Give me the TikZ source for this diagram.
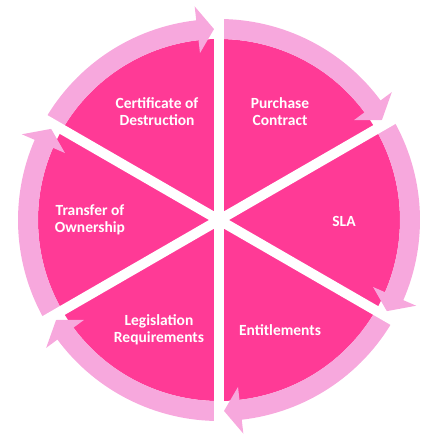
\documentclass[tikz,border=0pt]{standalone}
\usepackage{fontspec}
\setmainfont{Carlito}
\usetikzlibrary{positioning}
\definecolor{wedgePink}{RGB}{255,58,150}
\definecolor{ringPink}{RGB}{247,168,221}
\newdimen\wedgeR
\newdimen\bandR
\wedgeR=181pt
\bandR=201pt

\begin{document}
\begin{tikzpicture}[
    x=1pt, y=1pt,
    wedge/.style={%
      fill=wedgePink,
      draw=none,
    },
    ring/.style={%
      fill=ringPink,
      draw=none,
    },
    gap/.style={%
      draw=white,
      line width=10pt,
    },
    label/.style={%
      text=white,
      align=center,
      font=\bfseries\fontsize{15.5}{17}\selectfont,
    },
  ]
    \useasboundingbox (-219,-220) rectangle (223,220);

    % wedges
    \fill [wedge] (0,0) -- (90:\wedgeR) arc [start angle=90, end angle=30, radius=\wedgeR] -- cycle;
    \fill [wedge] (0,0) -- (30:\wedgeR) arc [start angle=30, end angle=-30, radius=\wedgeR] -- cycle;
    \fill [wedge] (0,0) -- (-30:\wedgeR) arc [start angle=-30, end angle=-90, radius=\wedgeR] -- cycle;
    \fill [wedge] (0,0) -- (270:\wedgeR) arc [start angle=270, end angle=210, radius=\wedgeR] -- cycle;
    \fill [wedge] (0,0) -- (210:\wedgeR) arc [start angle=210, end angle=150, radius=\wedgeR] -- cycle;
    \fill [wedge] (0,0) -- (150:\wedgeR) arc [start angle=150, end angle=90, radius=\wedgeR] -- cycle;

    % ring arrows, clockwise
    \fill [ring] (90:\wedgeR) arc [start angle=90, end angle=36.5, radius=\wedgeR] -- (36.5:168) -- (31.5:191) -- (36.5:215) -- (36.5:\bandR) arc [start angle=36.5, end angle=90, radius=\bandR] -- cycle;
    \fill [ring] (30:\wedgeR) arc [start angle=30, end angle=-23.5, radius=\wedgeR] -- (-23.5:168) -- (-28.5:191) -- (-23.5:215) -- (-23.5:\bandR) arc [start angle=-23.5, end angle=30, radius=\bandR] -- cycle;
    \fill [ring] (-30:\wedgeR) arc [start angle=-30, end angle=-83.5, radius=\wedgeR] -- (-83.5:168) -- (-88.5:191) -- (-83.5:215) -- (-83.5:\bandR) arc [start angle=-83.5, end angle=-30, radius=\bandR] -- cycle;
    \fill [ring] (270:\wedgeR) arc [start angle=270, end angle=216.5, radius=\wedgeR] -- (216.5:168) -- (211.5:191) -- (216.5:215) -- (216.5:\bandR) arc [start angle=216.5, end angle=270, radius=\bandR] -- cycle;
    \fill [ring] (210:\wedgeR) arc [start angle=210, end angle=156.5, radius=\wedgeR] -- (156.5:168) -- (151.5:191) -- (156.5:215) -- (156.5:\bandR) arc [start angle=156.5, end angle=210, radius=\bandR] -- cycle;
    \fill [ring] (150:\wedgeR) arc [start angle=150, end angle=96.5, radius=\wedgeR] -- (96.5:168) -- (91.5:191) -- (96.5:215) -- (96.5:\bandR) arc [start angle=96.5, end angle=150, radius=\bandR] -- cycle;

    % white gaps
    \draw [gap] (90:230) -- (270:230);
    \draw [gap] (30:230) -- (210:230);
    \draw [gap] (150:230) -- (330:230);

    % labels
    \node [label] (purchase) at (61,108) {Purchase\\Contract};
    \node [label] (sla) at (125,-1) {SLA};
    \node [label] (entitle) at (61,-110) {Entitlements};
    \node [label] (legis) at (-60,-110) {Legislation\\Requirements};
    \node [label] (transfer) at (-129,0) {Transfer of\\Ownership};
    \node [label] (destroy) at (-62,108) {Certificate of\\Destruction};
\end{tikzpicture}
\end{document}
